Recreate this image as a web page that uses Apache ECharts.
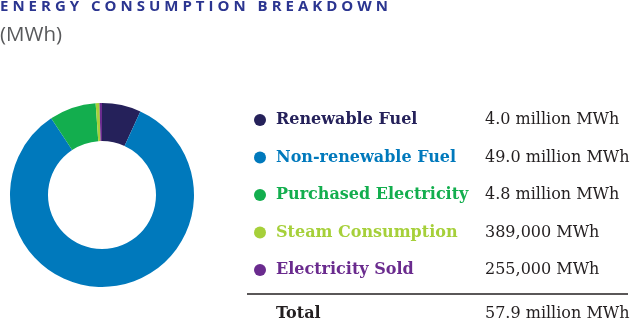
<!DOCTYPE html>
<html>
<head>
<meta charset="utf-8">
<script src="https://cdn.jsdelivr.net/npm/echarts@6/dist/echarts.min.js"></script>
<style>
  html, body { margin: 0; padding: 0; background: #fff; }
  #wrap { position: relative; width: 633px; height: 322px; overflow: hidden; }
  #chart { position: absolute; left: 0; top: 0; width: 633px; height: 322px; }
  #title { position: absolute; left: 0; top: -5px; font-family: "Open Sans", sans-serif; font-weight: 700;
           font-size: 15px; letter-spacing: 4.0px; color: #2b3590; white-space: nowrap; line-height: 20px; }
  #unit { position: absolute; left: 0; top: 20px; font-family: "Open Sans", sans-serif; font-size: 20.5px;
          color: #58595b; white-space: nowrap; line-height: 26px; }
</style>
</head>
<body>
<div id="wrap">
  <div id="chart"></div>
  <div id="title">ENERGY CONSUMPTION BREAKDOWN</div>
  <div id="unit">(MWh)</div>
</div>
<script>
// Energy sources, in million MWh
const categories = ['Renewable Fuel', 'Non-renewable Fuel', 'Purchased Electricity', 'Steam Consumption', 'Electricity Sold'];
const valuesMillion = [4.0, 49.0, 4.8, 0.389, 0.255];
const colors = ['#25215a', '#0079bc', '#13ae4e', '#a6d03a', '#6a2b8e'];
// Electricity sold is netted out of the total
const signs = [1, 1, 1, 1, -1];
const totalLabel = 'Total';

function fmt(v) {
  if (v >= 1) return v.toFixed(1) + ' million MWh';
  return Math.round(v * 1e6).toLocaleString('en-US') + ' MWh';
}
const total = valuesMillion.reduce((s, v, i) => s + signs[i] * v, 0);
const valueText = {};
categories.forEach((c, i) => { valueText[c] = fmt(valuesMillion[i]); });

const serif = 'DejaVu Serif';
const chart = echarts.init(document.getElementById('chart'));
chart.setOption({
  animation: false,
  legend: {
    orient: 'vertical',
    left: 249,
    top: 107,
    icon: 'circle',
    itemWidth: 12,
    itemHeight: 12,
    itemGap: 21.5,
    selectedMode: false,
    data: categories.map((c, i) => ({ name: c, textStyle: { color: colors[i] } })),
    formatter: name => '{n|' + name + '}{v|' + valueText[name] + '}',
    textStyle: {
      rich: {
        n: { fontFamily: serif, fontWeight: 'bold', fontSize: 16, width: 209, padding: [0, 0, 0, 5], lineHeight: 20 },
        v: { fontFamily: serif, fontSize: 16, color: '#231f20', lineHeight: 20 }
      }
    }
  },
  series: [{
    type: 'pie',
    center: [102, 195],
    radius: [54, 92],
    startAngle: 90,
    clockwise: true,
    label: { show: false },
    labelLine: { show: false },
    emphasis: { disabled: true },
    itemStyle: { borderWidth: 0 },
    data: categories.map((c, i) => ({ name: c, value: valuesMillion[i], itemStyle: { color: colors[i] } }))
  }],
  graphic: [
    { type: 'line', shape: { x1: 247, y1: 294, x2: 628, y2: 294 }, style: { stroke: '#231f20', lineWidth: 1.5 } },
    { type: 'text', left: 276, top: 306, style: { text: totalLabel, fontFamily: serif, fontWeight: 'bold', fontSize: 16, fill: '#231f20' } },
    { type: 'text', left: 485, top: 306, style: { text: fmt(total), fontFamily: serif, fontSize: 16, fill: '#231f20' } }
  ]
});
</script>
</body>
</html>
